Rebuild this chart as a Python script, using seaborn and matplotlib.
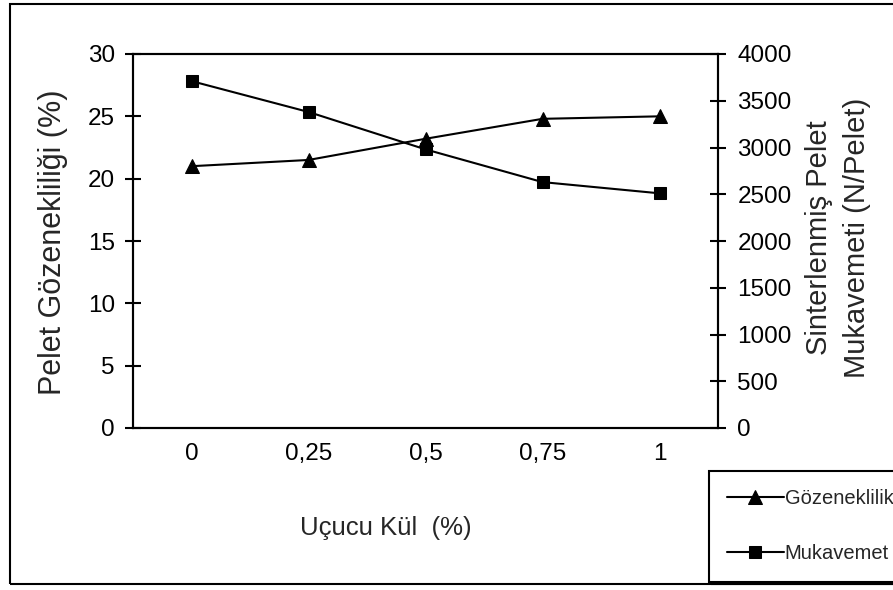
import numpy as np
import pandas as pd
import matplotlib
matplotlib.use("Agg")
import matplotlib.pyplot as plt
import seaborn as sns
from matplotlib.patches import Rectangle

categories = ["0", "0,25", "0,5", "0,75", "1"]
gozeneklilik = [21.0, 21.5, 23.2, 24.8, 25.0]
mukavemet = [3710, 3380, 2980, 2630, 2510]
left_ticks = [0, 5, 10, 15, 20, 25, 30]
right_ticks = [0, 500, 1000, 1500, 2000, 2500, 3000, 3500, 4000]

sns.set_theme(style="white")
plt.rcParams["font.family"] = ["Liberation Sans", "DejaVu Sans"]

fs = 17.5
lfs = 21
legfs = 14.5

fig = plt.figure(figsize=(8.93, 5.90), dpi=100)
fig.patch.set_facecolor("white")
fig.patches.append(Rectangle((10 / 893, 1 - 584 / 590), 1.0, (584 - 4) / 590,
                             transform=fig.transFigure, fill=False,
                             edgecolor="black", linewidth=1.5, zorder=0))

ax = fig.add_axes([133 / 893, 1 - 428 / 590, (718 - 133) / 893, (428 - 54) / 590])
ax2 = ax.twinx()

x = np.arange(len(categories))
df = pd.DataFrame({"x": x, "g": gozeneklilik, "m": mukavemet})

sns.lineplot(data=df, x="x", y="g", ax=ax, color="black", marker="^",
             markersize=10, linewidth=1.5, markeredgecolor="black", label="Gözeneklilik", legend=False)
sns.lineplot(data=df, x="x", y="m", ax=ax2, color="black", marker="s",
             markersize=9, linewidth=1.5, markeredgecolor="black", label="Mukavemet", legend=False)

ax.set_xlim(-0.5, len(categories) - 0.5)
ax.set_ylim(0, 30)
ax2.set_ylim(0, 4000)
ax.set_xticks(x)
ax.set_xticklabels(categories)
ax.set_yticks(left_ticks)
ax2.set_yticks(right_ticks)

for a in (ax, ax2):
    for s in a.spines.values():
        s.set_color("black")
        s.set_linewidth(1.5)
    a.grid(False)

ax.tick_params(axis="both", direction="inout", length=12, width=1.5, colors="black",
               labelsize=fs)
ax.tick_params(axis="y", pad=7)
ax.tick_params(axis="x", pad=5)
ax2.tick_params(axis="y", direction="inout", length=12, width=1.5, colors="black",
                labelsize=fs, pad=8)

ax.set_xlabel("Uçucu Kül  (%)", fontsize=lfs - 2.5)
ax.xaxis.set_label_coords((386 - 133) / 585, (428 - 528) / 374)
ax.xaxis.label.set_va("center")
ax.set_ylabel("Pelet Gözenekliliği (%)", fontsize=lfs + 1)
ax.yaxis.set_label_coords((53 - 133) / 585, (428 - 242) / 374)
ax.yaxis.label.set_va("center")
ax2.set_ylabel("Sinterlenmiş Pelet\nMukavemeti (N/Pelet)", fontsize=lfs, linespacing=1.45)
ax2.yaxis.set_label_coords((838 - 133) / 585, (428 - 238) / 374)
ax2.yaxis.label.set_va("center")

h1, l1 = ax.get_legend_handles_labels()
h2, l2 = ax2.get_legend_handles_labels()
leg = fig.legend(h1 + h2, l1 + l2, loc="upper left",
                 bbox_to_anchor=(709 / 893, 1 - 471 / 590),
                 frameon=True, fancybox=False, fontsize=legfs,
                 handlelength=2.8, handletextpad=0.05, labelspacing=1.8,
                 borderpad=0.9, borderaxespad=0,
                 shadow={"color": "black", "alpha": 1.0})
leg.get_frame().set_edgecolor("black")
leg.get_frame().set_linewidth(1.5)

fig.savefig("out.png", dpi=100)
